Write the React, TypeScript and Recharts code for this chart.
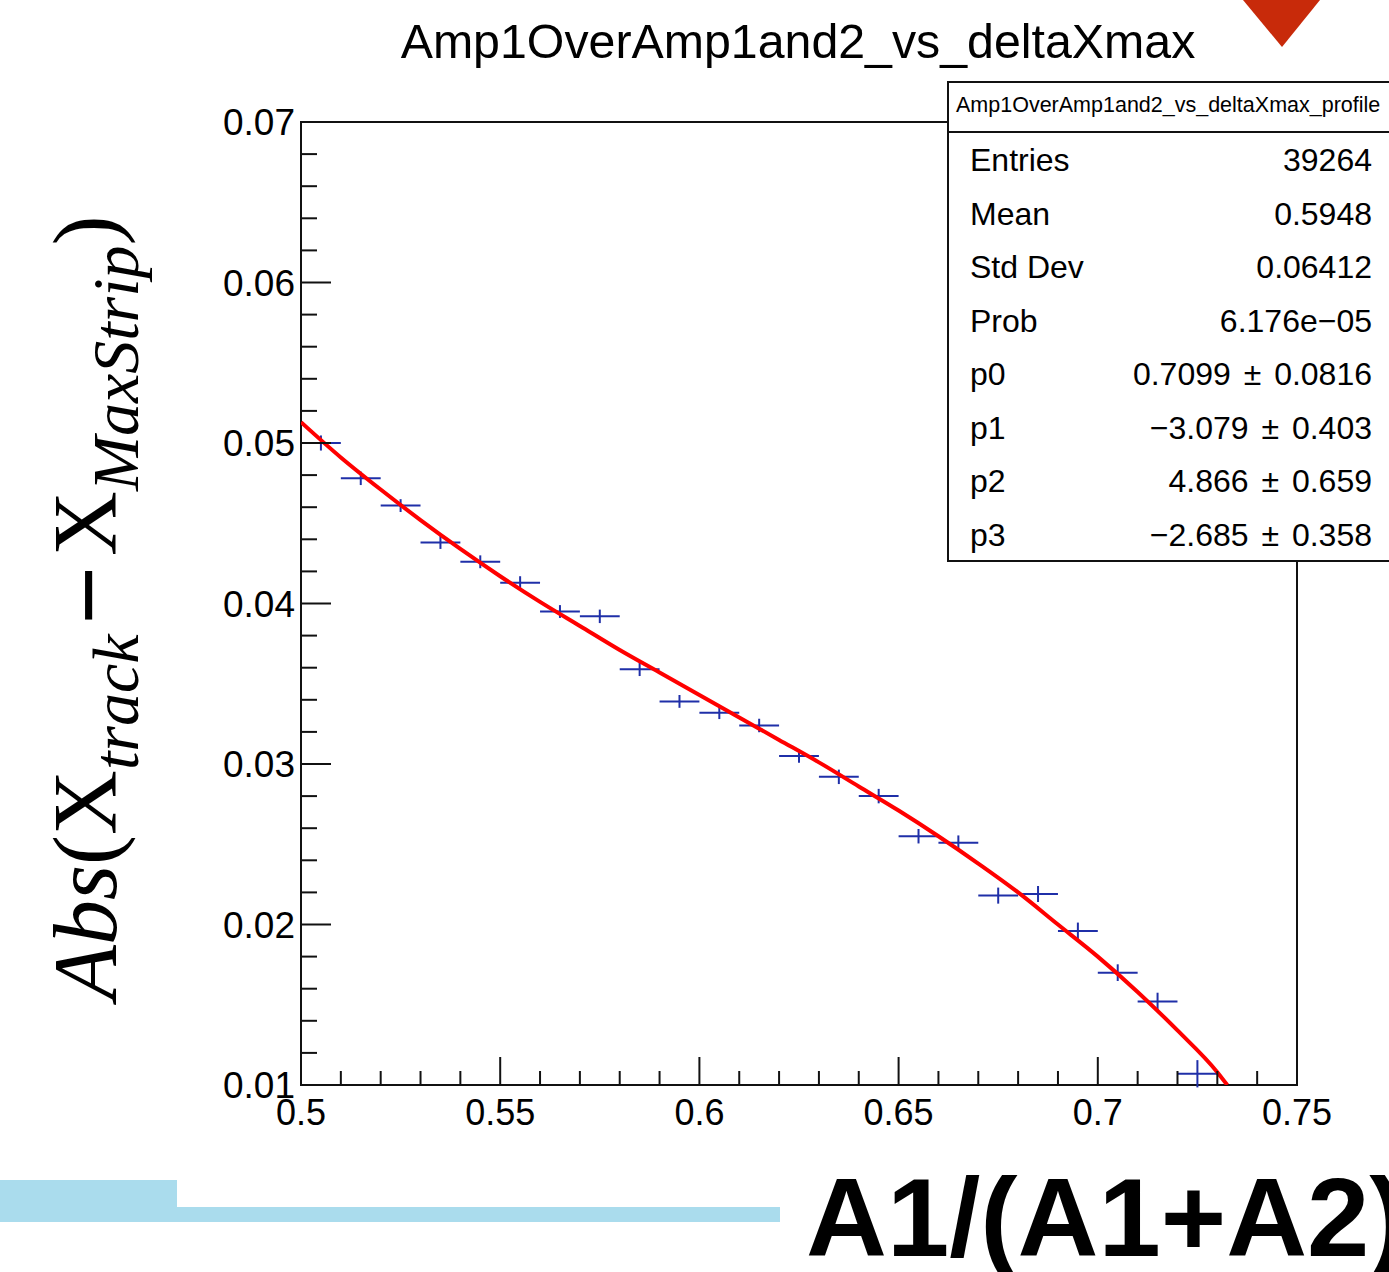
import React from "react";
import {ComposedChart, ErrorBar, Line, ReferenceArea, Scatter, XAxis, YAxis} from "recharts";

// profile bins
const BIN_CENTERS = [0.505, 0.515, 0.525, 0.535, 0.545, 0.555, 0.565, 0.575, 0.585, 0.595, 0.605, 0.615,
  0.625, 0.635, 0.645, 0.655, 0.665, 0.675, 0.685, 0.695, 0.705, 0.715, 0.725];
const PROFILE_MEANS = [0.0500, 0.0478, 0.0461, 0.0438, 0.0426, 0.0413, 0.0395, 0.0392, 0.0359, 0.0339, 0.0332, 0.0324,
  0.0305, 0.0292, 0.0280, 0.0255, 0.0251, 0.0218, 0.0219, 0.0196, 0.0170, 0.0152, 0.0107];
const PROFILE_ERRORS = [0.00047, 0.00042, 0.00040, 0.00040, 0.00040, 0.00040, 0.00040, 0.00042, 0.00042, 0.00040, 0.00040, 0.00042,
  0.00042, 0.00045, 0.00045, 0.00045, 0.00045, 0.00050, 0.00050, 0.00052, 0.00052, 0.00055, 0.00085];
const BIN_HALF_WIDTH = 0.005;

// red pol3 fit curve
const FIT_X = [0.5, 0.51, 0.52, 0.53, 0.54, 0.55, 0.56, 0.57, 0.58, 0.59, 0.6, 0.61, 0.62,
  0.63, 0.64, 0.65, 0.66, 0.67, 0.68, 0.69, 0.7, 0.71, 0.72, 0.73, 0.7325];
const FIT_Y = [0.0513, 0.0491, 0.0471, 0.0452, 0.0434, 0.0417, 0.0401, 0.0386, 0.0371, 0.0357, 0.0343, 0.0329, 0.0315,
  0.0301, 0.0286, 0.0271, 0.0255, 0.0238, 0.0220, 0.0200, 0.0180, 0.0158, 0.0134, 0.0108, 0.0100];

const X_TICKS = [0.5, 0.51, 0.52, 0.53, 0.54, 0.55, 0.56, 0.57, 0.58, 0.59, 0.6, 0.61, 0.62, 0.63, 0.64,
  0.65, 0.66, 0.67, 0.68, 0.69, 0.7, 0.71, 0.72, 0.73, 0.74, 0.75];
const Y_TICKS = [0.01, 0.012, 0.014, 0.016, 0.018, 0.02, 0.022, 0.024, 0.026, 0.028, 0.03, 0.032, 0.034, 0.036,
  0.038, 0.04, 0.042, 0.044, 0.046, 0.048, 0.05, 0.052, 0.054, 0.056, 0.058, 0.06, 0.062, 0.064, 0.066, 0.068, 0.07];

const STAT_LABELS = ["Entries", "Mean", "Std Dev", "Prob", "p0", "p1", "p2", "p3"];
const STAT_VALUES = ["39264", "0.5948", "0.06412", "6.176e\u221205", "0.7099 \u00b1 0.0816",
  "\u22123.079 \u00b1 0.403", "4.866 \u00b1 0.659", "\u22122.685 \u00b1 0.358"];

const W = 1389;
const H = 1272;
const PLOT_LEFT = 301;
const PLOT_BOTTOM = 1085;
const SANS = "'Liberation Sans', Arial, sans-serif";
const SERIF = "'Liberation Serif', 'Times New Roman', serif";

const profile = BIN_CENTERS.map((x, i) => ({x, y: PROFILE_MEANS[i], yErr: PROFILE_ERRORS[i], xErr: BIN_HALF_WIDTH}));
const fit = FIT_X.map((x, i) => ({x, y: FIT_Y[i]}));

const isMult = (v: number, k: number) => Math.abs(v * k - Math.round(v * k)) < 1e-6;

const XTick = (props: any) => {
  const {x, payload} = props;
  const v = payload.value as number;
  const major = isMult(v, 20);
  return (
    <g>
      <line x1={x} x2={x} y1={PLOT_BOTTOM} y2={PLOT_BOTTOM - (major ? 28 : 14)} stroke="#111" strokeWidth={2}/>
      {major && (
        <text x={x} y={1125} textAnchor="middle" fontSize={36} fontFamily={SANS} fill="#000">
          {String(Number(v.toFixed(2)))}
        </text>
      )}
    </g>
  );
};

const YTick = (props: any) => {
  const {y, payload} = props;
  const v = payload.value as number;
  const major = isMult(v, 100);
  return (
    <g>
      <line x1={PLOT_LEFT} x2={PLOT_LEFT + (major ? 30 : 16)} y1={y} y2={y} stroke="#111" strokeWidth={2}/>
      {major && (
        <text x={295} y={y + 13} textAnchor="end" fontSize={37} fontFamily={SANS} fill="#000">
          {v.toFixed(2)}
        </text>
      )}
    </g>
  );
};

const noMarker = () => <g/>;

export default function App() {
  return (
    <div style={{position: "absolute", left: 0, top: 0, width: W, height: H, background: "#fff"}}>
      <ComposedChart width={W} height={H} margin={{top: 122, right: 92, bottom: 157, left: 241}}>
        <XAxis type="number" dataKey="x" domain={[0.5, 0.75]} ticks={X_TICKS} interval={0} allowDataOverflow
               axisLine={false} tickLine={false} tick={<XTick/>} height={30}/>
        <YAxis type="number" dataKey="y" domain={[0.01, 0.07]} ticks={Y_TICKS} interval={0} allowDataOverflow
               axisLine={false} tickLine={false} tick={<YTick/>} width={60}/>
        <ReferenceArea x1={0.5} x2={0.75} y1={0.01} y2={0.07} fill="none" stroke="#111" strokeWidth={2}/>
        <Scatter data={profile} shape={noMarker} isAnimationActive={false}>
          <ErrorBar dataKey="xErr" direction="x" width={0} stroke="#1f2fa8" strokeWidth={2}/>
          <ErrorBar dataKey="yErr" direction="y" width={0} stroke="#1f2fa8" strokeWidth={2}/>
        </Scatter>
        <Line data={fit} dataKey="y" type="monotone" stroke="#ff0000" strokeWidth={4} dot={false}
              isAnimationActive={false}/>
      </ComposedChart>

      <svg width={W} height={H} style={{position: "absolute", left: 0, top: 0, pointerEvents: "none"}}>
        <text x={798} y={58} textAnchor="middle" fontSize={48.3} fontFamily={SANS} fill="#000">
          Amp1OverAmp1and2_vs_deltaXmax
        </text>

        <polygon points="1243,0 1320,0 1282,47" fill="#c82a0a"/>

        <rect x={948} y={82} width={460} height={479} fill="#fff" stroke="#111" strokeWidth={2}/>
        <line x1={948} x2={W} y1={132} y2={132} stroke="#111" strokeWidth={2}/>
        <text x={956} y={112} fontSize={21.5} fontFamily={SANS} fill="#000">
          Amp1OverAmp1and2_vs_deltaXmax_profile
        </text>
        {STAT_LABELS.map((lab, i) => (
          <g key={lab}>
            <text x={970} y={171 + i * 53.5} fontSize={32} fontFamily={SANS} fill="#000">{lab}</text>
            <text x={1372} y={171 + i * 53.5} textAnchor="end" fontSize={32} fontFamily={SANS} fill="#000"
                  wordSpacing={4}>
              {STAT_VALUES[i]}
            </text>
          </g>
        ))}

        <text transform="translate(116,1000) rotate(-90)" fontSize={90} fontFamily={SERIF} fill="#000">
          <tspan fontStyle="italic">Abs</tspan>
          <tspan>(X</tspan>
          <tspan fontStyle="italic" fontSize={66} dy={22}>track</tspan>
          <tspan fontFamily={SANS} fontSize={100} dx={10} dy={-16}>{"\u2212"}</tspan>
          <tspan dx={10} dy={-6}>X</tspan>
          <tspan fontStyle="italic" fontSize={66} dy={22}>MaxStrip</tspan>
          <tspan dy={-22}>)</tspan>
        </text>

        <rect x={0} y={1180} width={177} height={42} fill="#aadced"/>
        <rect x={177} y={1207} width={603} height={15} fill="#aadced"/>
        <text x={806} y={1256} fontSize={112} fontWeight="bold" fontFamily={SANS} fill="#000">
          A1/(A1+A2)
        </text>
      </svg>
    </div>
  );
}
